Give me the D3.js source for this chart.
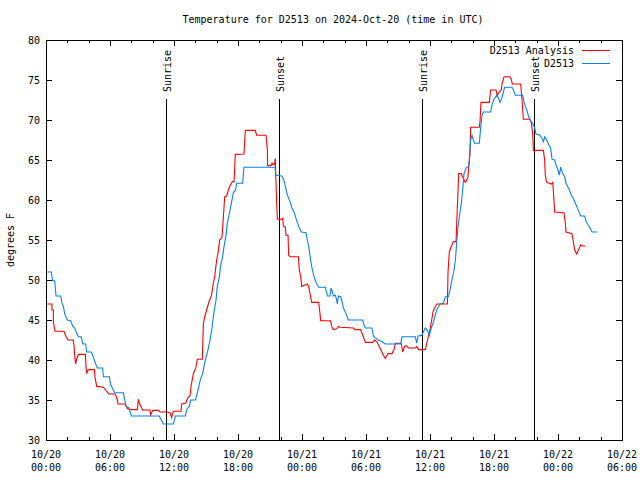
<!DOCTYPE html>
<html>
<head>
<meta charset="utf-8">
<script src="https://cdn.jsdelivr.net/npm/d3@7"></script>
<style>
  html, body { margin: 0; padding: 0; background: #fff; }
  svg { display: block; }
  text { font-family: "DejaVu Sans Mono", "Liberation Mono", monospace; font-size: 10px; fill: #000; }
</style>
</head>
<body>
<svg id="chart" width="640" height="480"></svg>
<script>
// ---- data (hours since 2024-10-20 00:00 UTC, degrees F) ----
const titleText = "Temperature for D2513 on 2024-Oct-20 (time in UTC)";
const yLabel = "degrees F";
const seriesNames = ["D2513 Analysis", "D2513"];
const seriesColors = ["#ff0000", "#0a80f5"];

const xTickHours = [0, 6, 12, 18, 24, 30, 36, 42, 48, 54];
const xTickDates = ["10/20", "10/20", "10/20", "10/20", "10/21", "10/21", "10/21", "10/21", "10/22", "10/22"];
const xTickTimes = ["00:00", "06:00", "12:00", "18:00", "00:00", "06:00", "12:00", "18:00", "00:00", "06:00"];
const yTicks = [30, 35, 40, 45, 50, 55, 60, 65, 70, 75, 80];

const sunEventHours = [11.28, 21.88, 35.28, 45.79];
const sunEventNames = ["Sunrise", "Sunset", "Sunrise", "Sunset"];

const analysisHours = [0.1,0.56,0.56,0.69,0.69,0.84,1.69,1.88,2.06,2.56,2.63,2.69,2.78,2.88,3.06,3.69,3.75,3.81,3.91,4.06,4.53,4.59,4.75,5.37,5.59,5.91,6.5,6.69,6.75,7.41,7.53,7.63,8.0,8.56,8.66,8.75,8.88,9.06,9.75,9.81,10.0,10.56,10.69,11.31,11.63,11.78,11.94,12.66,12.72,13.09,13.31,13.5,13.62,13.81,14.06,14.19,14.66,14.75,14.88,15.06,15.31,15.5,15.69,15.81,16.0,16.13,16.28,16.5,16.56,16.69,16.75,16.94,17.09,17.25,17.47,17.63,17.69,17.75,18.56,18.69,19.62,19.75,20.63,20.75,20.78,21.07,21.19,21.25,21.41,21.5,21.53,21.63,21.69,22.13,22.19,22.25,22.44,22.5,22.69,22.75,22.88,23.66,23.75,23.88,23.97,24.5,24.63,24.75,24.91,25.56,25.69,25.75,26.69,26.78,26.94,27.25,27.44,27.56,28.81,28.97,29.5,29.75,29.94,30.63,30.81,31.0,31.25,31.63,31.81,32.06,32.44,32.63,32.75,33.31,33.44,33.63,33.75,34.0,34.63,34.75,34.94,35.56,35.75,36.0,36.31,36.63,37.63,37.69,37.81,37.94,38.19,38.44,38.5,38.63,38.69,38.94,39.13,39.31,39.44,39.56,39.63,39.75,39.81,40.62,40.69,40.78,41.56,41.69,42.19,42.31,42.44,42.69,42.75,42.94,43.5,43.63,43.72,44.5,44.63,44.75,45.38,45.5,45.63,45.69,46.63,46.75,46.81,46.94,47.38,47.5,47.56,47.69,48.56,48.69,48.75,49.31,49.44,49.56,49.75,49.94,50.13,50.31,50.56];
const analysisTemps = [47.0,47.0,46.25,46.25,44.8,43.6,43.6,42.9,42.5,42.5,41.75,40.5,39.5,40.2,40.7,40.7,39.2,38.3,38.7,38.8,38.8,37.9,36.7,36.6,36.25,35.75,35.75,35.0,34.5,34.5,34.25,33.9,33.8,33.8,35.1,34.6,34.25,33.75,33.75,33.1,33.7,33.7,33.5,33.5,33.4,32.8,33.6,33.6,34.5,34.6,35.3,35.5,36.9,38.25,39.1,40.1,40.1,44.5,45.4,46.25,47.4,48.0,49.6,50.4,52.5,53.4,55.0,55.3,56.5,59.1,60.4,60.5,61.25,61.75,62.3,62.3,64.0,65.7,65.75,68.7,68.7,68.1,68.1,66.3,64.3,64.3,64.6,64.4,64.4,65.2,63.3,59.6,57.6,57.6,57.8,56.75,56.6,55.6,55.6,53.1,52.9,52.9,51.25,50.4,49.2,49.5,49.2,48.3,47.2,47.2,45.8,44.9,44.9,44.2,43.8,43.9,44.2,44.1,44.0,43.8,43.8,42.9,42.2,42.2,42.5,42.3,41.7,40.6,40.2,40.8,40.8,41.3,42.1,42.1,41.0,41.7,41.8,41.5,41.5,41.7,41.3,41.3,42.4,43.75,46.2,47.0,47.0,51.0,53.5,54.0,54.8,54.8,57.0,61.25,63.3,63.3,62.7,62.2,62.5,62.9,64.2,65.8,69.1,69.1,69.8,72.2,72.2,73.75,73.75,73.1,73.4,73.8,74.5,75.4,75.4,75.0,74.5,74.5,72.5,70.1,70.1,69.6,68.3,66.2,66.2,65.0,63.1,62.2,62.0,62.2,61.25,58.5,58.4,57.1,56.0,55.8,54.8,53.75,53.25,53.8,54.4,54.25,54.25];

const observedHours = [0.1,0.5,0.56,0.63,0.81,0.88,0.94,1.38,1.5,1.63,1.75,2.0,2.31,2.5,2.69,2.88,3.03,3.31,3.44,3.72,3.81,4.25,4.38,4.5,4.63,4.81,5.31,5.38,5.94,6.06,6.22,6.44,7.25,7.38,7.5,7.78,8.0,10.5,10.62,10.81,11.0,11.94,12.13,13.06,13.19,13.44,13.56,14.03,14.19,14.5,14.69,14.81,15.0,15.19,15.38,15.56,15.75,15.94,16.06,16.25,16.38,16.56,16.69,16.88,17.0,17.19,17.38,17.56,17.75,17.88,18.44,18.56,21.47,21.56,22.09,22.25,22.44,22.63,22.88,23.06,23.25,23.44,23.69,23.94,24.38,24.5,24.63,24.81,24.94,25.13,25.31,25.56,26.19,26.38,26.63,26.72,26.88,26.94,27.13,27.25,27.31,27.41,27.63,27.75,27.88,28.13,28.34,29.69,29.81,29.94,30.56,30.69,30.84,31.16,31.47,31.81,33.25,33.38,34.63,34.75,34.88,35.22,35.38,35.56,35.75,35.94,36.06,36.31,36.63,36.94,37.25,37.44,37.72,37.88,38.06,38.25,38.38,38.5,38.63,38.75,38.94,39.06,39.19,39.38,39.63,39.69,39.81,39.94,40.06,40.19,40.62,40.75,40.88,41.0,41.69,41.81,42.0,42.25,42.41,42.56,42.75,42.88,43.0,43.69,43.81,44.0,44.69,44.81,44.94,45.13,45.25,45.44,45.63,45.81,45.94,46.31,46.5,46.63,46.75,46.94,47.13,47.31,47.44,47.69,47.81,48.0,48.13,48.25,48.44,48.63,48.75,49.06,49.25,49.44,49.63,49.75,50.13,50.5,50.63,50.81,51.0,51.19,51.69];
const observedTemps = [51.0,51.0,50.4,49.9,49.9,48.96,48.0,48.0,47.1,46.7,45.8,45.0,44.9,44.25,44.0,43.3,42.9,42.9,42.0,42.0,41.0,41.0,40.6,40.1,39.6,39.0,39.0,37.9,37.9,36.9,36.5,35.9,35.9,35.0,34.2,34.0,33.0,33.0,33.0,32.5,32.0,32.0,33.0,33.0,33.75,34.25,35.0,35.0,35.9,37.7,38.3,39.2,40.3,41.3,42.5,44.0,46.0,47.5,49.2,50.4,51.9,52.9,54.2,55.6,57.1,58.3,59.6,60.9,61.2,62.1,62.1,64.1,64.1,63.1,63.0,62.7,61.7,60.6,59.8,59.0,58.5,57.7,56.7,56.0,55.9,55.0,54.2,52.5,51.5,50.4,49.7,49.1,49.1,48.0,48.0,49.0,48.4,48.0,48.1,47.5,47.0,48.0,47.9,47.3,46.5,45.8,45.0,45.0,44.4,44.0,44.0,43.0,42.8,42.5,42.3,42.0,42.0,42.9,42.9,42.1,43.0,43.1,43.5,44.0,43.7,43.1,43.75,44.7,46.25,47.0,47.1,47.9,47.9,48.75,50.0,51.25,52.5,54.6,56.7,57.9,59.6,61.25,63.3,64.0,64.2,65.0,67.5,68.1,67.5,67.1,67.1,69.0,70.6,71.0,71.0,71.9,72.6,73.1,72.8,72.2,72.8,73.5,74.1,74.1,73.8,73.1,73.1,72.3,71.7,71.0,70.4,69.9,69.6,69.0,68.25,68.1,67.7,67.3,67.9,67.5,66.9,66.5,65.1,65.0,64.4,63.75,63.1,64.1,63.3,62.9,62.1,61.3,60.6,60.2,59.6,59.2,58.0,58.0,57.3,56.9,56.5,56.0,56.0];

// ---- layout ----
const margin = { left: 46, right: 622, top: 40, bottom: 440 };
const svg = d3.select("#chart");

const x = d3.scaleLinear().domain([0, 54]).range([margin.left, margin.right]);
const y = d3.scaleLinear().domain([30, 80]).range([margin.bottom, margin.top]);

const minorHours = d3.range(0, 55, 2).filter(h => h % 6 !== 0);

// title
svg.append("text").attr("x", 333).attr("y", 23).attr("text-anchor", "middle").text(titleText);

// y label
svg.append("text").attr("transform", "translate(14,240) rotate(-90)")
  .attr("text-anchor", "middle").text(yLabel);

// axes with inward ticks
const gAxes = svg.append("g").attr("shape-rendering", "crispEdges");
function styleAxis(g) {
  g.select(".domain").remove();
  g.selectAll("line").attr("stroke", "#000");
  g.selectAll("text").remove();
}
gAxes.append("g").attr("transform", `translate(0,${margin.bottom})`)
  .call(d3.axisBottom(x).tickValues(xTickHours).tickSize(-6)).call(styleAxis);
gAxes.append("g").attr("transform", `translate(0,${margin.bottom})`)
  .call(d3.axisBottom(x).tickValues(minorHours).tickSize(-3)).call(styleAxis);
gAxes.append("g").attr("transform", `translate(0,${margin.top})`)
  .call(d3.axisTop(x).tickValues(xTickHours).tickSize(-6)).call(styleAxis);
gAxes.append("g").attr("transform", `translate(0,${margin.top})`)
  .call(d3.axisTop(x).tickValues(minorHours).tickSize(-3)).call(styleAxis);
gAxes.append("g").attr("transform", `translate(${margin.left},0)`)
  .call(d3.axisLeft(y).tickValues(yTicks).tickSize(-6)).call(styleAxis);
gAxes.append("g").attr("transform", `translate(${margin.right},0)`)
  .call(d3.axisRight(y).tickValues(yTicks).tickSize(-6)).call(styleAxis);

// y tick labels
svg.append("g").selectAll("text").data(yTicks).join("text")
  .attr("x", margin.left - 6).attr("y", d => y(d) + 4)
  .attr("text-anchor", "end").text(d => d);

// x tick labels (two lines)
const xl = svg.append("g").selectAll("text").data(xTickHours).join("text")
  .attr("text-anchor", "middle");
xl.append("tspan").attr("x", d => x(d)).attr("y", 458).text((d, i) => xTickDates[i]);
xl.append("tspan").attr("x", d => x(d)).attr("y", 471).text((d, i) => xTickTimes[i]);

// sun event lines & labels
const sun = svg.append("g");
sun.selectAll("line").data(sunEventHours).join("line")
  .attr("shape-rendering", "crispEdges")
  .attr("x1", d => Math.round(x(d)) + 0.5).attr("x2", d => Math.round(x(d)) + 0.5)
  .attr("y1", 99).attr("y2", margin.bottom)
  .attr("stroke", "#000").attr("stroke-width", 1);
sun.selectAll("text").data(sunEventHours).join("text")
  .attr("transform", d => `translate(${Math.round(x(d)) + 5},92) rotate(-90)`)
  .attr("text-anchor", "start").text((d, i) => sunEventNames[i]);

// data lines
const line = d3.line().x(d => x(d[0])).y(d => y(d[1]));
const seriesData = [
  d3.zip(analysisHours, analysisTemps),
  d3.zip(observedHours, observedTemps)
];
svg.append("g").selectAll("path").data(seriesData).join("path")
  .attr("d", line).attr("fill", "none")
  .attr("stroke", (d, i) => seriesColors[i]).attr("stroke-width", 1.1);

// frame
svg.append("rect").attr("x", margin.left + 0.5).attr("y", margin.top + 0.5)
  .attr("width", margin.right - margin.left).attr("height", margin.bottom - margin.top)
  .attr("fill", "none").attr("stroke", "#000").attr("shape-rendering", "crispEdges");

// legend
const leg = svg.append("g");
seriesNames.forEach((name, i) => {
  const ly = 50 + i * 12.5;
  leg.append("text").attr("x", 574).attr("y", ly + 4).attr("text-anchor", "end").text(name);
  leg.append("line").attr("x1", 582).attr("x2", 610).attr("y1", Math.round(ly) + 0.5).attr("y2", Math.round(ly) + 0.5)
    .attr("stroke", seriesColors[i]).attr("stroke-width", 1).attr("shape-rendering", "crispEdges");
});
</script>
</body>
</html>
